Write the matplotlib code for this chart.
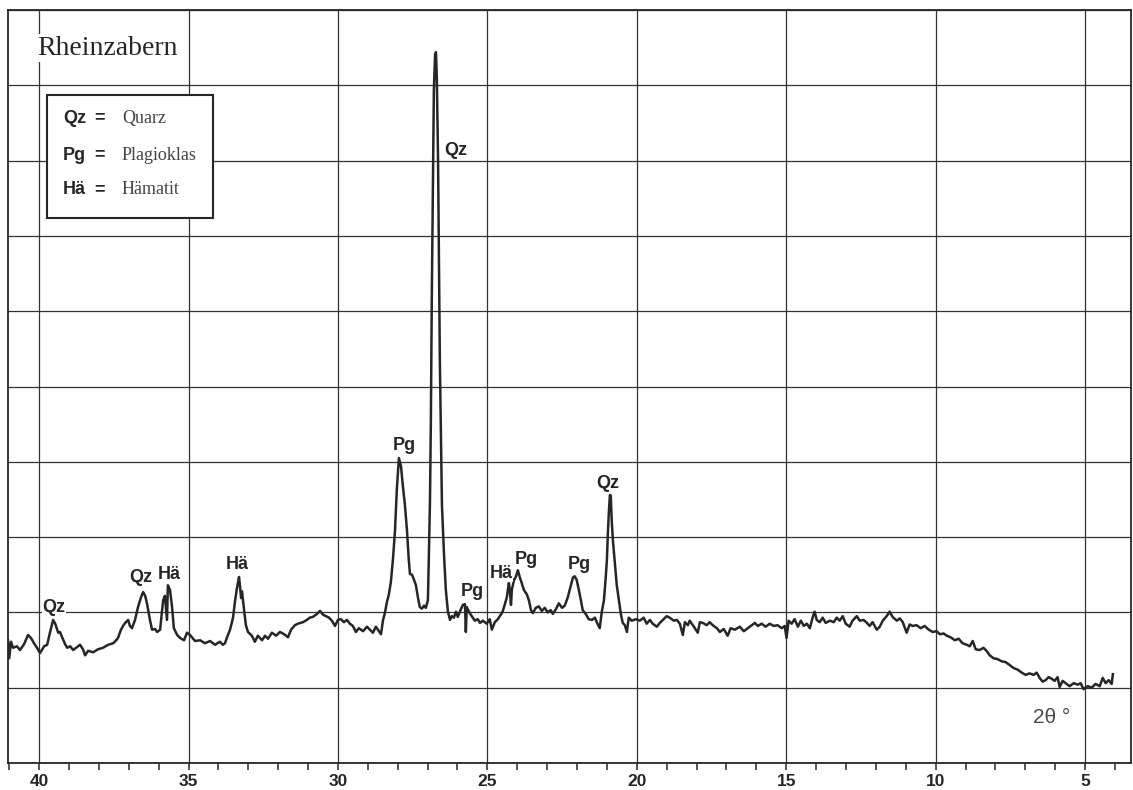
import numpy as np
import matplotlib.pyplot as plt
from matplotlib.ticker import MultipleLocator
from matplotlib.patches import Rectangle

# Diffraktogramm Rheinzabern
two_theta = [41.04, 41.00, 40.94, 40.87, 40.74, 40.64, 40.50, 40.37, 40.27, 40.17, 40.07, 39.97, 39.83, 39.73,
             39.63, 39.53, 39.46, 39.36, 39.30, 39.23, 39.13, 39.06, 38.96, 38.86, 38.73, 38.63, 38.53, 38.46,
             38.36, 38.19, 38.03, 37.86, 37.69, 37.52, 37.42, 37.36, 37.26, 37.19, 37.12, 37.02, 36.96, 36.89,
             36.79, 36.69, 36.59, 36.52, 36.45, 36.39, 36.29, 36.22, 36.12, 36.05, 35.95, 35.85, 35.79, 35.72,
             35.69, 35.62, 35.55, 35.49, 35.38, 35.28, 35.15, 35.05, 34.95, 34.78, 34.61, 34.45, 34.28, 34.11,
             33.95, 33.85, 33.78, 33.71, 33.61, 33.51, 33.44, 33.38, 33.31, 33.28, 33.24, 33.21, 33.14, 33.08,
             33.01, 32.88, 32.78, 32.68, 32.54, 32.44, 32.34, 32.21, 32.07, 31.94, 31.80, 31.67, 31.57, 31.44,
             31.34, 31.17, 31.04, 30.94, 30.84, 30.70, 30.60, 30.50, 30.40, 30.30, 30.20, 30.10, 30.00, 29.90,
             29.80, 29.70, 29.60, 29.50, 29.40, 29.30, 29.16, 29.03, 28.93, 28.83, 28.73, 28.63, 28.56, 28.49,
             28.43, 28.36, 28.30, 28.23, 28.16, 28.09, 28.03, 27.96, 27.89, 27.83, 27.76, 27.69, 27.63, 27.59,
             27.52, 27.46, 27.39, 27.32, 27.26, 27.19, 27.12, 27.06, 26.99, 26.96, 26.92, 26.89, 26.86, 26.82,
             26.79, 26.75, 26.72, 26.69, 26.65, 26.62, 26.59, 26.55, 26.52, 26.45, 26.39, 26.32, 26.25, 26.19,
             26.12, 26.05, 25.99, 25.92, 25.82, 25.75, 25.72, 25.69, 25.59, 25.49, 25.42, 25.32, 25.25, 25.15,
             25.02, 24.92, 24.85, 24.75, 24.65, 24.55, 24.49, 24.42, 24.35, 24.28, 24.25, 24.21, 24.18, 24.11,
             24.05, 23.98, 23.91, 23.85, 23.78, 23.68, 23.61, 23.54, 23.48, 23.38, 23.28, 23.18, 23.08, 22.98,
             22.88, 22.81, 22.71, 22.61, 22.50, 22.41, 22.31, 22.21, 22.14, 22.08, 22.01, 21.94, 21.87, 21.81,
             21.71, 21.61, 21.50, 21.40, 21.34, 21.24, 21.17, 21.10, 21.04, 21.00, 20.97, 20.94, 20.90, 20.87,
             20.84, 20.80, 20.73, 20.67, 20.60, 20.53, 20.47, 20.40, 20.33, 20.27, 20.17, 20.03, 19.90, 19.77,
             19.67, 19.56, 19.47, 19.33, 19.23, 19.10, 19.00, 18.90, 18.76, 18.66, 18.56, 18.46, 18.39, 18.29,
             18.23, 18.09, 17.96, 17.89, 17.79, 17.66, 17.56, 17.46, 17.32, 17.22, 17.09, 16.96, 16.86, 16.72,
             16.55, 16.42, 16.32, 16.19, 16.05, 15.95, 15.82, 15.69, 15.55, 15.42, 15.29, 15.15, 15.05, 14.99,
             14.92, 14.82, 14.72, 14.61, 14.51, 14.41, 14.31, 14.21, 14.11, 14.05, 13.98, 13.88, 13.78, 13.68,
             13.54, 13.41, 13.31, 13.21, 13.11, 13.01, 12.88, 12.78, 12.64, 12.54, 12.41, 12.30, 12.21, 12.11,
             11.97, 11.87, 11.77, 11.64, 11.54, 11.44, 11.30, 11.20, 11.10, 10.97, 10.87, 10.77, 10.64, 10.50,
             10.37, 10.23, 10.10, 9.97, 9.86, 9.73, 9.63, 9.50, 9.36, 9.23, 9.10, 8.96, 8.86, 8.76,
             8.66, 8.53, 8.40, 8.30, 8.19, 8.06, 7.93, 7.79, 7.66, 7.52, 7.39, 7.26, 7.12, 6.99,
             6.86, 6.72, 6.62, 6.52, 6.42, 6.32, 6.22, 6.12, 6.02, 5.92, 5.85, 5.75, 5.65, 5.52,
             5.38, 5.25, 5.15, 5.05, 4.91, 4.78, 4.65, 4.51, 4.41, 4.31, 4.21, 4.11, 4.07]
intensity = [1.63, 1.39, 1.61, 1.53, 1.55, 1.50, 1.58, 1.70, 1.66, 1.59, 1.53, 1.46, 1.55, 1.57,
             1.74, 1.90, 1.85, 1.73, 1.74, 1.67, 1.58, 1.53, 1.55, 1.50, 1.54, 1.57, 1.51, 1.43,
             1.49, 1.47, 1.51, 1.53, 1.57, 1.59, 1.63, 1.66, 1.77, 1.82, 1.86, 1.90, 1.82, 1.79,
             1.90, 2.07, 2.20, 2.27, 2.22, 2.12, 1.90, 1.77, 1.78, 1.74, 1.77, 2.16, 2.22, 1.90,
             2.36, 2.30, 2.07, 1.79, 1.70, 1.66, 1.63, 1.73, 1.70, 1.62, 1.63, 1.59, 1.62, 1.57,
             1.61, 1.57, 1.59, 1.67, 1.77, 1.93, 2.16, 2.32, 2.47, 2.36, 2.19, 2.28, 2.03, 1.83,
             1.74, 1.69, 1.61, 1.69, 1.63, 1.69, 1.65, 1.73, 1.69, 1.74, 1.71, 1.67, 1.77, 1.83,
             1.85, 1.87, 1.90, 1.93, 1.94, 1.98, 2.02, 1.97, 1.95, 1.93, 1.89, 1.82, 1.90, 1.91,
             1.87, 1.90, 1.85, 1.82, 1.74, 1.79, 1.75, 1.81, 1.77, 1.73, 1.81, 1.75, 1.71, 1.90,
             1.99, 2.14, 2.23, 2.40, 2.70, 3.09, 3.63, 4.05, 3.94, 3.69, 3.43, 3.09, 2.70, 2.51,
             2.50, 2.44, 2.36, 2.19, 2.07, 2.05, 2.09, 2.06, 2.16, 2.70, 3.49, 4.56, 6.15, 7.74,
             8.94, 9.40, 9.44, 9.07, 8.01, 6.68, 5.35, 4.29, 3.43, 2.76, 2.30, 2.01, 1.90, 1.95,
             1.93, 2.01, 1.94, 2.01, 2.10, 2.11, 1.74, 2.07, 1.99, 1.93, 1.89, 1.91, 1.86, 1.89,
             1.85, 1.91, 1.77, 1.87, 1.91, 1.97, 2.01, 2.10, 2.20, 2.39, 2.30, 2.10, 2.30, 2.43,
             2.47, 2.56, 2.46, 2.39, 2.30, 2.24, 2.16, 2.03, 1.99, 2.06, 2.08, 2.02, 2.06, 2.00,
             2.03, 1.98, 2.04, 2.12, 2.06, 2.09, 2.20, 2.35, 2.46, 2.48, 2.43, 2.30, 2.16, 2.03,
             1.98, 1.91, 1.90, 1.93, 1.87, 1.79, 2.01, 2.16, 2.46, 2.70, 3.03, 3.29, 3.56, 3.55,
             3.23, 2.96, 2.63, 2.36, 2.16, 1.97, 1.86, 1.83, 1.74, 1.93, 1.89, 1.91, 1.89, 1.93,
             1.85, 1.90, 1.85, 1.81, 1.86, 1.91, 1.95, 1.93, 1.89, 1.90, 1.85, 1.70, 1.87, 1.83,
             1.89, 1.81, 1.73, 1.87, 1.86, 1.83, 1.87, 1.83, 1.79, 1.74, 1.78, 1.69, 1.79, 1.77,
             1.81, 1.75, 1.78, 1.82, 1.86, 1.82, 1.85, 1.81, 1.85, 1.82, 1.83, 1.79, 1.82, 1.66,
             1.89, 1.85, 1.91, 1.81, 1.89, 1.82, 1.85, 1.79, 1.94, 2.01, 1.90, 1.87, 1.93, 1.86,
             1.89, 1.87, 1.93, 1.89, 1.95, 1.85, 1.81, 1.89, 1.95, 1.89, 1.90, 1.86, 1.82, 1.87,
             1.77, 1.81, 1.89, 1.95, 2.01, 1.94, 1.89, 1.92, 1.87, 1.73, 1.84, 1.82, 1.83, 1.79,
             1.82, 1.77, 1.74, 1.75, 1.71, 1.72, 1.69, 1.67, 1.63, 1.65, 1.59, 1.57, 1.55, 1.62,
             1.51, 1.50, 1.53, 1.49, 1.43, 1.39, 1.38, 1.35, 1.34, 1.30, 1.26, 1.24, 1.20, 1.17,
             1.19, 1.17, 1.20, 1.13, 1.08, 1.10, 1.14, 1.12, 1.09, 1.14, 1.01, 1.09, 1.06, 1.02,
             1.06, 1.04, 1.06, 0.98, 1.02, 1.00, 1.05, 1.02, 1.13, 1.06, 1.10, 1.05, 1.18]

# Reflexe: Beschriftung, Lage (2 theta), Hoehe der Beschriftung
peak_labels = ['Qz', 'Qz', 'Hä', 'Hä', 'Pg', 'Qz', 'Pg', 'Hä', 'Pg', 'Pg', 'Qz']
peak_pos = [39.50, 36.59, 35.65, 33.38, 27.79, 26.05, 25.52, 24.55, 23.71, 21.91, 20.97]
peak_height = [2.07, 2.46, 2.50, 2.63, 4.21, 8.14, 2.28, 2.52, 2.70, 2.63, 3.71]

legend_abbr = ['Qz', 'Pg', 'Hä']
legend_names = ['Quarz', 'Plagioklas', 'Hämatit']

ink = '#262626'

fig = plt.figure(figsize=(11.33, 7.9), dpi=100)
ax = fig.add_axes([0.00706, 0.0342, 0.991, 0.9531])

ax.plot(two_theta, intensity, color=ink, lw=1.8, zorder=3)

ax.set_xlim(41.04, 3.47)
ax.set_ylim(0, 10)
ax.xaxis.set_major_locator(MultipleLocator(5))
ax.xaxis.set_minor_locator(MultipleLocator(1))
ax.set_yticks(np.arange(0, 11, 1))
ax.tick_params(axis='y', left=False, labelleft=False)
ax.tick_params(axis='x', which='both', direction='out', length=5, width=1.1, color=ink, pad=3)
ax.grid(True, which='major', color='#333333', lw=0.9)
ax.set_axisbelow(True)
for s in ax.spines.values():
    s.set_linewidth(1.3)
    s.set_color(ink)

for lab in ax.get_xticklabels():
    lab.set_family(['Liberation Sans Narrow', 'Liberation Sans'])
    lab.set_fontweight('bold')
    lab.set_fontsize(12.5)
    lab.set_color(ink)

# Reflexbeschriftungen
for lab, x, y in zip(peak_labels, peak_pos, peak_height):
    ax.text(x, y, lab, ha='center', va='center', fontsize=13, fontweight='bold',
            family='Liberation Sans', color=ink, zorder=4,
            bbox=dict(facecolor='white', edgecolor='none', pad=0.5))

ax.text(6.12, 0.60, '2θ °', ha='center', va='center', fontsize=15, color='#4a4a4a',
        family='Liberation Sans')

# Titel
ax.text(0.0258, 0.9495, 'Rheinzabern', transform=ax.transAxes, ha='left', va='center',
        fontsize=20, family='Liberation Serif', color=ink,
        bbox=dict(facecolor='white', edgecolor='none', pad=1))

# Legendenkasten
box = Rectangle((0.0347, 0.7238), 0.1478, 0.1633, transform=ax.transAxes,
                facecolor='white', edgecolor=ink, lw=1.5, zorder=5)
ax.add_patch(box)
rows = [0.8566, 0.8074, 0.761]
for abbr, name, y in zip(legend_abbr, legend_names, rows):
    ax.text(0.049, y, abbr, transform=ax.transAxes, ha='left', va='center', fontsize=13,
            fontweight='bold', family='Liberation Sans', color=ink, zorder=6)
    ax.text(0.0819, y, '=', transform=ax.transAxes, ha='center', va='center', fontsize=13,
            fontweight='bold', family='Liberation Sans', color=ink, zorder=6)
    ax.text(0.1015, y, name, transform=ax.transAxes, ha='left', va='center', fontsize=13,
            family='Liberation Serif', color='#444444', zorder=6)

fig.savefig('out.png', dpi=100, facecolor='white')
